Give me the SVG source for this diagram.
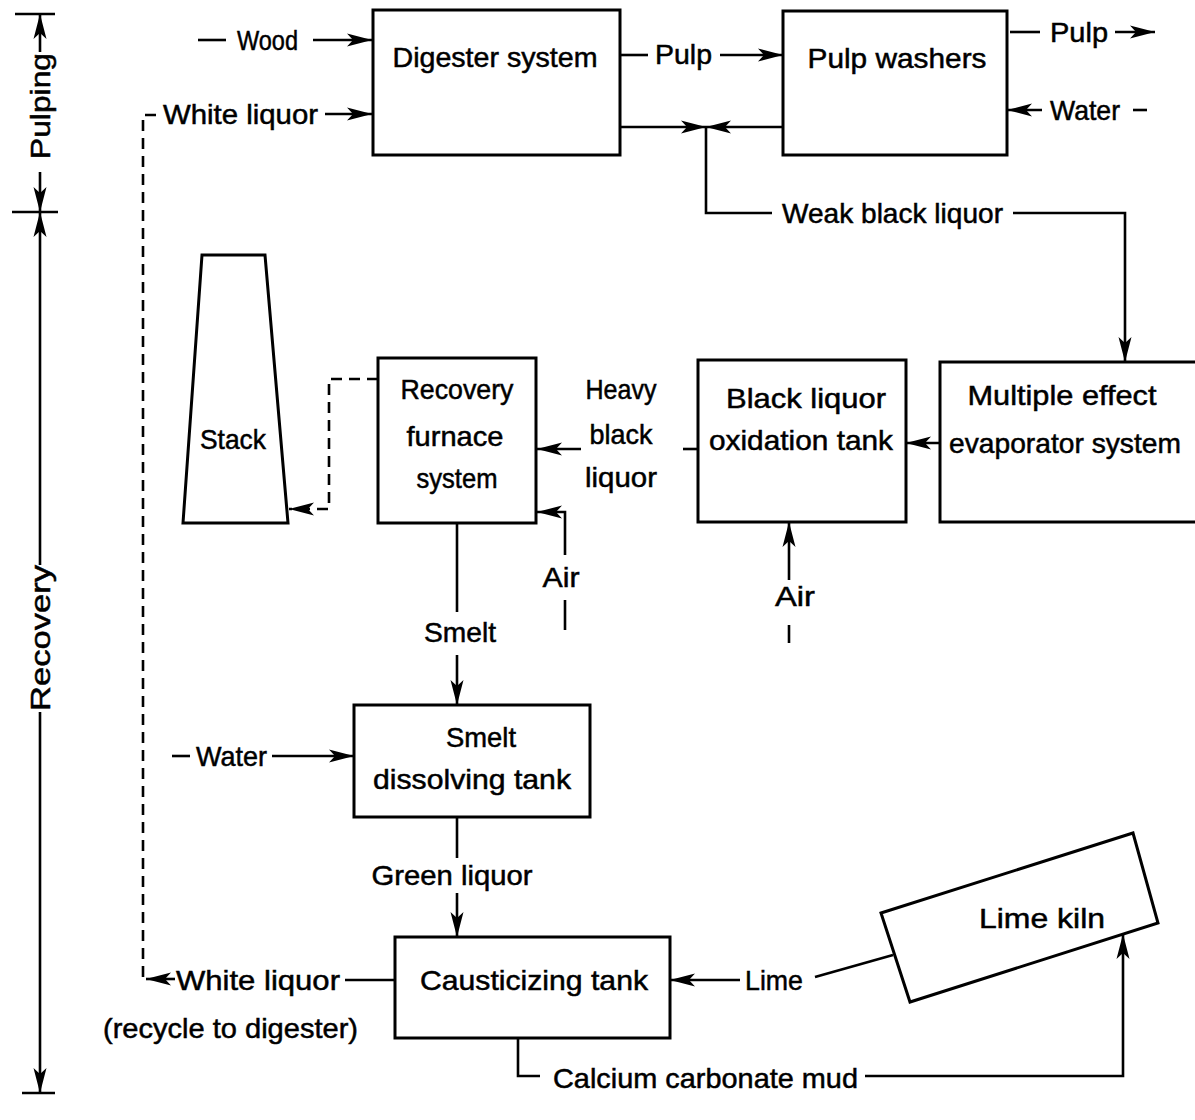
<svg xmlns="http://www.w3.org/2000/svg" width="1195" height="1120" viewBox="0 0 1195 1120">
<style>
.b{fill:#fff;stroke:#000;stroke-width:3}
.l{fill:none;stroke:#000;stroke-width:2.6}
.d{fill:none;stroke:#000;stroke-width:2.6;stroke-dasharray:11 7}
text{font-family:"Liberation Sans",Arial,sans-serif;font-size:28px;fill:#000;stroke:#000;stroke-width:0.5}
.c{text-anchor:middle}
</style>
<defs>
<marker id="ah" markerUnits="userSpaceOnUse" markerWidth="26" markerHeight="14" refX="25" refY="7" orient="auto" viewBox="0 0 26 14">
<path d="M0,0.5 L25,7 L0,13.5 L6,7 Z" fill="#000"/>
</marker>
</defs>
<rect width="1195" height="1120" fill="#fff"/>

<g id="axis">
<path class="l" d="M15,14 H55 M12,212 H58 M22,1093 H55"/>
<path class="l" d="M40,52 V14" marker-end="url(#ah)"/>
<path class="l" d="M40,172 V212" marker-end="url(#ah)"/>
<path class="l" d="M40,565 V212" marker-end="url(#ah)"/>
<path class="l" d="M40,712 V1093" marker-end="url(#ah)"/>
<text class="c" transform="translate(50,106) rotate(-90)" textLength="106" lengthAdjust="spacingAndGlyphs">Pulping</text>
<text class="c" transform="translate(50,638) rotate(-90)" textLength="146" lengthAdjust="spacingAndGlyphs">Recovery</text>
</g>

<g id="connectors">
<path class="l" d="M198,40 H226"/>
<text x="237" y="50" textLength="61" lengthAdjust="spacingAndGlyphs">Wood</text>
<path class="l" d="M313,40 H372" marker-end="url(#ah)"/>

<path class="d" d="M156,115 H143 V978"/>
<path class="l" d="M175,979 H146" marker-end="url(#ah)"/>
<text x="163" y="124" textLength="155" lengthAdjust="spacingAndGlyphs">White liquor</text>
<path class="l" d="M325,114 H372" marker-end="url(#ah)"/>

<path class="l" d="M620,55 H648"/>
<text x="655" y="64" textLength="57" lengthAdjust="spacingAndGlyphs">Pulp</text>
<path class="l" d="M720,55 H783" marker-end="url(#ah)"/>

<path class="l" d="M620,127 H706" marker-end="url(#ah)"/>
<path class="l" d="M783,127 H706" marker-end="url(#ah)"/>
<path class="l" d="M706,127 V213 H772"/>
<text x="782" y="223" textLength="221" lengthAdjust="spacingAndGlyphs">Weak black liquor</text>
<path class="l" d="M1013,213 H1125 V362" marker-end="url(#ah)"/>

<path class="l" d="M1010,32 H1040"/>
<text x="1050" y="42" textLength="58" lengthAdjust="spacingAndGlyphs">Pulp</text>
<path class="l" d="M1115,32 H1155" marker-end="url(#ah)"/>

<path class="l" d="M1042,110 H1007" marker-end="url(#ah)"/>
<text x="1050" y="120" textLength="70" lengthAdjust="spacingAndGlyphs">Water</text>
<path class="l" d="M1133,110 H1147"/>

<path class="l" d="M940,443 H906" marker-end="url(#ah)"/>

<path class="l" d="M698,449 H683"/>
<text class="c" x="621" y="399" textLength="71" lengthAdjust="spacingAndGlyphs">Heavy</text>
<text class="c" x="621" y="444" textLength="63" lengthAdjust="spacingAndGlyphs">black</text>
<text class="c" x="621" y="487" textLength="72" lengthAdjust="spacingAndGlyphs">liquor</text>
<path class="l" d="M581,449 H537" marker-end="url(#ah)"/>

<path class="d" d="M378,379 H329 V509 H289" marker-end="url(#ah)"/>

<path class="l" d="M565,630 V600"/>
<text class="c" x="561" y="587" textLength="37" lengthAdjust="spacingAndGlyphs">Air</text>
<path class="l" d="M565,555 V512 H537" marker-end="url(#ah)"/>

<path class="l" d="M789,643 V625"/>
<text class="c" x="795" y="606" textLength="40" lengthAdjust="spacingAndGlyphs">Air</text>
<path class="l" d="M789,580 V522" marker-end="url(#ah)"/>

<path class="l" d="M457,523 V612"/>
<text class="c" x="460" y="642" textLength="72" lengthAdjust="spacingAndGlyphs">Smelt</text>
<path class="l" d="M457,655 V705" marker-end="url(#ah)"/>

<path class="l" d="M172,756 H190"/>
<text x="196" y="766" textLength="71" lengthAdjust="spacingAndGlyphs">Water</text>
<path class="l" d="M272,756 H354" marker-end="url(#ah)"/>

<path class="l" d="M457,817 V858"/>
<text class="c" x="452" y="885" textLength="161" lengthAdjust="spacingAndGlyphs">Green liquor</text>
<path class="l" d="M457,893 V937" marker-end="url(#ah)"/>

<text x="176" y="990" textLength="164" lengthAdjust="spacingAndGlyphs">White liquor</text>
<text x="103" y="1038" textLength="255" lengthAdjust="spacingAndGlyphs">(recycle to digester)</text>
<path class="l" d="M345,980 H395"/>

<path class="l" d="M740,980 H670" marker-end="url(#ah)"/>
<text x="745" y="990" textLength="58" lengthAdjust="spacingAndGlyphs">Lime</text>
<path class="l" d="M815,977 L893,955"/>

<path class="l" d="M518,1038 V1076 H540"/>
<text x="553" y="1088" textLength="305" lengthAdjust="spacingAndGlyphs">Calcium carbonate mud</text>
<path class="l" d="M865,1076 H1123 V934" marker-end="url(#ah)"/>
</g>

<g id="digester">
<rect class="b" x="373" y="10" width="247" height="145"/>
<text class="c" x="495" y="67" textLength="205" lengthAdjust="spacingAndGlyphs">Digester system</text>
</g>
<g id="washers">
<rect class="b" x="783" y="11" width="224" height="144"/>
<text class="c" x="897" y="68" textLength="179" lengthAdjust="spacingAndGlyphs">Pulp washers</text>
</g>
<g id="stack">
<polygon class="b" points="202,255 265,255 288,523 183,523"/>
<text class="c" x="233" y="449" textLength="66" lengthAdjust="spacingAndGlyphs">Stack</text>
</g>
<g id="recovery">
<rect class="b" x="378" y="358" width="158" height="165"/>
<text class="c" x="457" y="399" textLength="113" lengthAdjust="spacingAndGlyphs">Recovery</text>
<text class="c" x="455" y="446" textLength="97" lengthAdjust="spacingAndGlyphs">furnace</text>
<text class="c" x="457" y="488" textLength="81" lengthAdjust="spacingAndGlyphs">system</text>
</g>
<g id="oxidation">
<rect class="b" x="698" y="360" width="208" height="162"/>
<text class="c" x="806" y="408" textLength="160" lengthAdjust="spacingAndGlyphs">Black liquor</text>
<text class="c" x="801" y="450" textLength="184" lengthAdjust="spacingAndGlyphs">oxidation tank</text>
</g>
<g id="evaporator">
<rect class="b" x="940" y="362" width="262" height="160"/>
<text class="c" x="1062" y="405" textLength="189" lengthAdjust="spacingAndGlyphs">Multiple effect</text>
<text class="c" x="1065" y="453" textLength="232" lengthAdjust="spacingAndGlyphs">evaporator system</text>
</g>
<g id="dissolving">
<rect class="b" x="354" y="705" width="236" height="112"/>
<text class="c" x="481" y="747" textLength="70" lengthAdjust="spacingAndGlyphs">Smelt</text>
<text class="c" x="472" y="789" textLength="198" lengthAdjust="spacingAndGlyphs">dissolving tank</text>
</g>
<g id="causticizing">
<rect class="b" x="395" y="937" width="275" height="101"/>
<text class="c" x="534" y="990" textLength="228" lengthAdjust="spacingAndGlyphs">Causticizing tank</text>
</g>
<g id="kiln">
<polygon class="b" points="881,913 1133,833 1158,923 910,1002"/>
<text class="c" x="1042" y="928" textLength="126" lengthAdjust="spacingAndGlyphs">Lime kiln</text>
</g>
</svg>
